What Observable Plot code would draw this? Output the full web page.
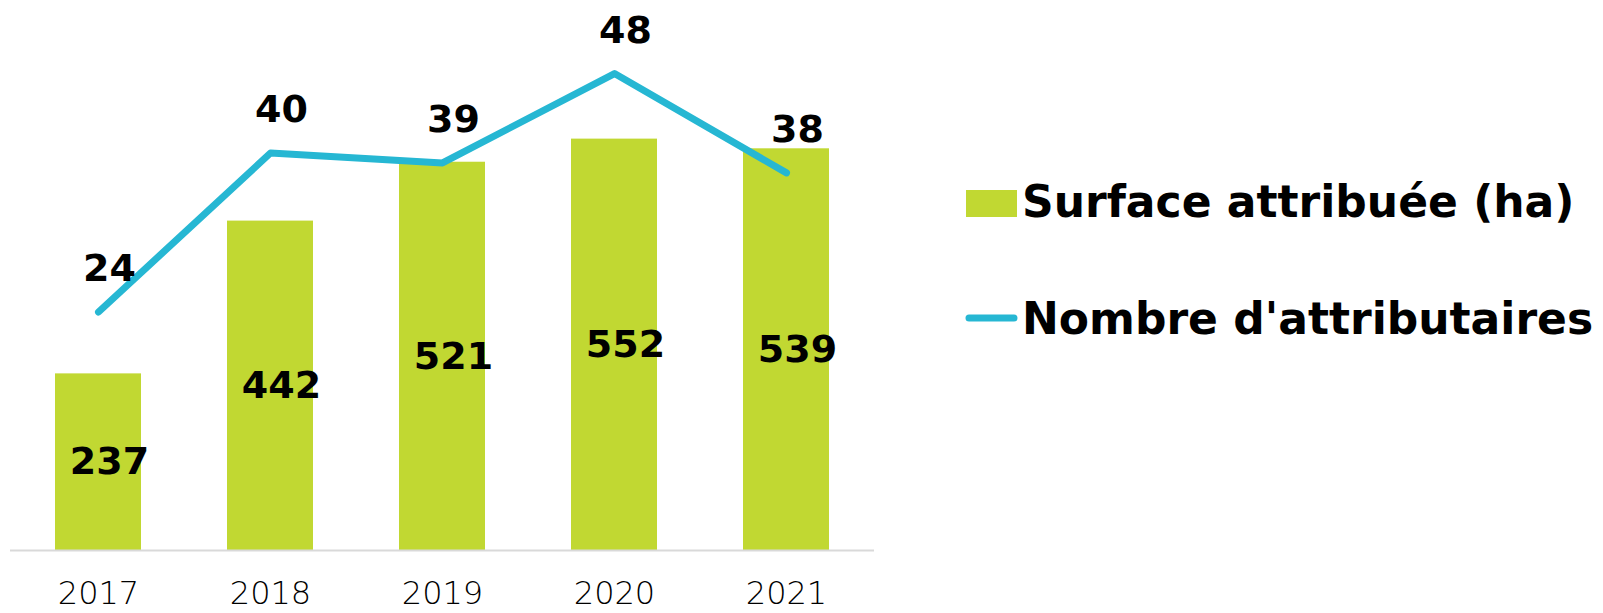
<!DOCTYPE html>
<html>
<head>
<meta charset="utf-8">
<script src="https://cdn.jsdelivr.net/npm/d3@7"></script>
<script src="https://cdn.jsdelivr.net/npm/@observablehq/plot@0.6"></script>
<style>
  html, body { margin: 0; padding: 0; background: #fff; }
  #wrap { position: relative; width: 1603px; height: 613px; overflow: hidden; }
  #chart { position: absolute; left: 0; top: 0; }
  #legend { position: absolute; left: 0; top: 0; }
</style>
</head>
<body>
<div id="wrap"><div id="chart"></div><svg id="legend" width="1603" height="613"></svg></div>
<script>
// ---- data ----
const years = ["2017", "2018", "2019", "2020", "2021"];
const surface = [237, 442, 521, 552, 539];      // Surface attribuée (ha)
const attributaires = [24, 40, 39, 48, 38];      // Nombre d'attributaires
const seriesNames = ["Surface attribuée (ha)", "Nombre d'attributaires"];

// ---- styles ----
const green = "#c1d832";
const blue = "#26b7d3";
const boldFont = "'DejaVu Sans', sans-serif";
const lightFont = "'DejaVu Sans', sans-serif";

// secondary axis ratio (primary 0–800 vs secondary 0–60)
const k = 800 / 60;

const rows = years.map((y, i) => ({year: y, surface: surface[i], n: attributaires[i], n2: attributaires[i] * k}));

const chart = Plot.plot({
  width: 1603,
  height: 613,
  marginLeft: 10,
  marginRight: 729,
  marginTop: 0,
  marginBottom: 63,
  style: {fontFamily: boldFont, background: "transparent"},
  x: {domain: years, paddingInner: 0.5, paddingOuter: 0.25, label: null},
  y: {domain: [0, 738], axis: null},
  marks: [
    Plot.barY(rows, {x: "year", y: "surface", fill: green}),
    Plot.ruleY([0], {stroke: "#d9d9d9", strokeWidth: 2}),
    Plot.lineY(rows, {x: "year", y: "n2", stroke: blue, strokeWidth: 7, strokeLinecap: "round", strokeLinejoin: "round"}),
    Plot.text(rows, {x: "year", y: d => d.surface / 2, text: d => String(d.surface), dx: 11, fontSize: 38, fontWeight: "bold", fill: "#000"}),
    Plot.text(rows, {x: "year", y: "n2", text: d => String(d.n), dx: 11, dy: -43, fontSize: 38, fontWeight: "bold", fill: "#000"}),
    Plot.axisX({tickSize: 0, tickPadding: 31, fontSize: 32, fontWeight: 200, fontFamily: lightFont, fill: "#000", label: null})
  ]
});
document.getElementById("chart").appendChild(chart);

// ---- legend ----
const lg = d3.select("#legend");
lg.append("rect").attr("x", 966).attr("y", 190).attr("width", 51).attr("height", 27).attr("fill", green);
lg.append("line").attr("x1", 969).attr("x2", 1014).attr("y1", 318).attr("y2", 318)
  .attr("stroke", blue).attr("stroke-width", 7).attr("stroke-linecap", "round");
[[seriesNames[0], 217], [seriesNames[1], 334]].forEach(([t, yb]) => {
  lg.append("text").attr("x", 1022).attr("y", yb).text(t)
    .attr("font-family", boldFont).attr("font-weight", "bold").attr("font-size", 44).attr("fill", "#000");
});
</script>
</body>
</html>
